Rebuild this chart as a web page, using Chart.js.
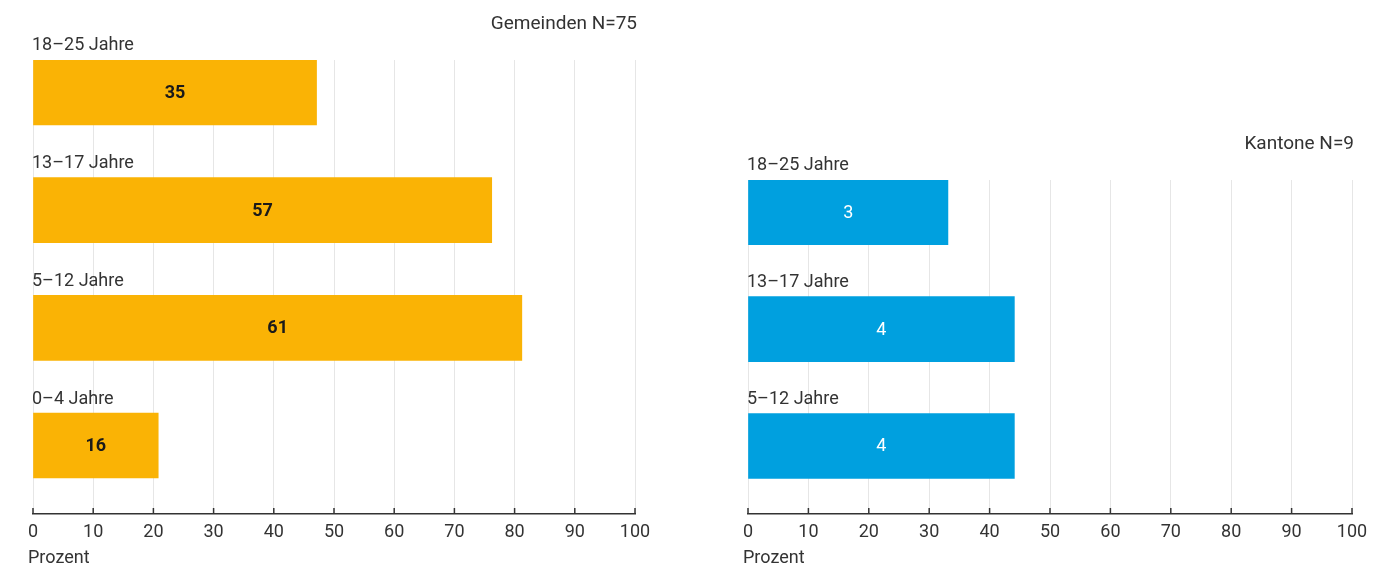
<!DOCTYPE html>
<html lang="de">
<head>
<meta charset="UTF-8">
<title>Altersgruppen – Gemeinden und Kantone</title>
<script src="https://cdn.jsdelivr.net/npm/chart.js"></script>
<style>
  html, body { margin:0; padding:0; background:#fff; }
  body { width:1398px; height:572px; position:relative; overflow:hidden; font-family:Roboto, sans-serif; }
  .wrap { position:absolute; top:0; height:572px; }
  #left { left:0; width:690px; }
  #right { left:690px; width:708px; }
</style>
</head>
<body>
<div class="wrap" id="left"><canvas id="chartGemeinden"></canvas></div>
<div class="wrap" id="right"><canvas id="chartKantone"></canvas></div>

<script>
// Data (bar length = Prozent, label = Anzahl)
const gemeindenLabels  = ['18–25 Jahre', '13–17 Jahre', '5–12 Jahre', '0–4 Jahre'];
const gemeindenCounts  = [35, 57, 61, 16];
const gemeindenPercent = [47.1, 76.2, 81.2, 20.8];

const kantoneLabels  = ['18–25 Jahre', '13–17 Jahre', '5–12 Jahre'];
const kantoneCounts  = [3, 4, 4];
const kantonePercent = [33.1, 44.1, 44.1];

const xTicks = [0, 10, 20, 30, 40, 50, 60, 70, 80, 90, 100];

const FONT = 'Roboto, "Liberation Sans", sans-serif';
const TEXT = '#333';

// titles, labels above bars, values in bars, inner tick marks, axis name
const annotate = {
  id: 'annotate',
  afterDatasetsDraw(chart, args, o) {
    const { ctx, chartArea: a, scales: { x } } = chart;
    const meta = chart.getDatasetMeta(0);
    ctx.save();
    ctx.strokeStyle = TEXT;
    ctx.lineWidth = 1.5;
    xTicks.forEach(v => {
      const px = x.getPixelForValue(v);
      ctx.beginPath(); ctx.moveTo(px, a.bottom); ctx.lineTo(px, a.bottom - 6); ctx.stroke();
    });
    ctx.fillStyle = TEXT;
    ctx.font = '19px ' + FONT;
    ctx.textBaseline = 'middle';
    ctx.textAlign = 'right';
    ctx.fillText(o.title, a.right + 2, a.top - 36);
    meta.data.forEach((bar, i) => {
      const top = bar.y - bar.height / 2;
      ctx.textAlign = 'left';
      ctx.fillStyle = TEXT;
      ctx.font = '18px ' + FONT;
      ctx.fillText(o.labels[i], a.left - 1, top - 14);
      ctx.textAlign = 'center';
      ctx.fillStyle = o.valueColor;
      ctx.font = o.valueWeight + ' 18px ' + FONT;
      ctx.fillText(String(o.counts[i]), (bar.base + bar.x) / 2, bar.y + 1);
    });
    ctx.textAlign = 'left';
    ctx.fillStyle = TEXT;
    ctx.font = '18px ' + FONT;
    ctx.fillText('Prozent', a.left - 5, 558);
    ctx.restore();
  }
};

function makeChart(id, labels, counts, values, color, valueColor, valueWeight, title, pad) {
  return new Chart(document.getElementById(id), {
    type: 'bar',
    data: {
      datasets: [{
        data: values.map((v, i) => ({ x: v, y: i })),
        backgroundColor: color,
        borderWidth: 0,
        barThickness: 65
      }]
    },
    options: {
      indexAxis: 'y',
      responsive: true,
      maintainAspectRatio: false,
      animation: false,
      layout: { padding: pad },
      plugins: {
        legend: { display: false },
        tooltip: { enabled: false },
        annotate: { title, labels, counts, valueColor, valueWeight }
      },
      scales: {
        x: {
          type: 'linear', min: 0, max: 100,
          afterBuildTicks: s => { s.ticks = xTicks.map(v => ({ value: v })); },
          afterFit: s => { s.height = 58; },
          grid: { color: '#e6e6e6', lineWidth: 1, drawTicks: false },
          border: { color: TEXT, width: 1.5 },
          ticks: { color: TEXT, font: { family: FONT, size: 18 }, padding: 8, maxRotation: 0, autoSkip: false }
        },
        y: {
          type: 'linear', reverse: true, display: false, offset: false,
          grid: { offset: false },
          min: -0.276, max: labels.length - 1 + 0.582
        }
      }
    },
    plugins: [annotate]
  });
}

makeChart('chartGemeinden', gemeindenLabels, gemeindenCounts, gemeindenPercent,
  '#FAB305', '#1a1a1a', 'bold', 'Gemeinden N=75', { left: 33, right: 55, top: 60, bottom: 0 });
makeChart('chartKantone', kantoneLabels, kantoneCounts, kantonePercent,
  '#00A0DF', '#ffffff', '400', 'Kantone N=9', { left: 58, right: 46, top: 180, bottom: 0 });
</script>
</body>
</html>
